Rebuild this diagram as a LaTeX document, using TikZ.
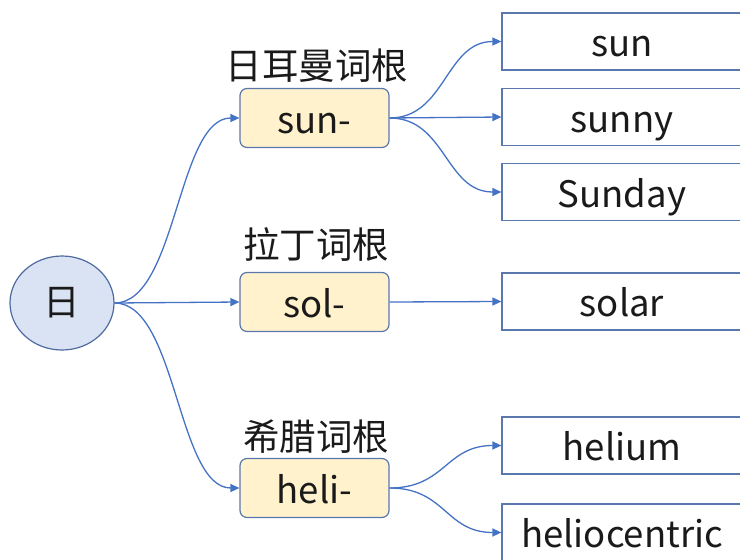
\documentclass[tikz,border=0pt]{standalone}
\usepackage{fontspec}
\setmainfont{Noto Sans CJK SC}
\usetikzlibrary{shapes.geometric,arrows.meta}
\definecolor{arrowblue}{HTML}{4472C4}
\definecolor{rootfill}{HTML}{DAE3F3}
\definecolor{rootdraw}{HTML}{4F6A9E}
\definecolor{rootbox}{HTML}{FFF2CC}
\definecolor{boxdraw}{HTML}{5B78AE}
\definecolor{txt}{HTML}{1A1A1A}
\begin{document}
\begin{tikzpicture}[x=1pt,y=-1pt,
  every node/.style={font=\fontsize{36.5}{40}\selectfont, text=txt},
  rootnode/.style={ellipse, draw=rootdraw, fill=rootfill, line width=1.2pt, minimum width=104pt, minimum height=94pt, inner sep=0pt},
  basefix/.style={text height=36pt, text depth=6pt},
  rootbox/.style={rectangle, rounded corners=7pt, draw=boxdraw, fill=rootbox, line width=1.2pt, minimum width=149pt, minimum height=59pt, inner sep=0pt, basefix},
  wordbox/.style={rectangle, draw=boxdraw, fill=white, line width=1.2pt, minimum width=240pt, minimum height=57pt, inner sep=0pt, basefix},
  lbl/.style={inner sep=0pt},
  conn/.style={draw=arrowblue, line width=1.3pt, -{Triangle[length=9pt,width=8pt]}}
]
\useasboundingbox (0,0) rectangle (740,560);
\node[rootnode] (root) at (62,303) {日};
\node[rootbox] (sunr) at (314.5,118) {sun-};
\node[rootbox] (solr) at (314.5,302) {sol-};
\node[rootbox] (helir) at (314.5,488) {heli-};
\node[lbl] (lsun) at (317,66) {日耳曼词根};
\node[lbl] (lsol) at (316,244) {拉丁词根};
\node[lbl] (lheli) at (316,437) {希腊词根};
\node[wordbox] (wsun) at (622,41.5) {sun};
\node[wordbox] (wsunny) at (622,117) {sunny};
\node[wordbox] (wsunday) at (622,192) {Sunday};
\node[wordbox] (wsolar) at (622,301.5) {solar};
\node[wordbox] (whelium) at (622,445.5) {helium};
\node[wordbox] (whelio) at (622,532.5) {heliocentric};
\draw[conn] (root.east) .. controls +(62,0) and +(-62,0) .. (sunr.west);
\draw[conn] (root.east) -- (solr.west);
\draw[conn] (root.east) .. controls +(62,0) and +(-62,0) .. (helir.west);
\draw[conn] (sunr.east) .. controls +(56,0) and +(-56,0) .. (wsun.west);
\draw[conn] (sunr.east) -- (wsunny.west);
\draw[conn] (sunr.east) .. controls +(56,0) and +(-56,0) .. (wsunday.west);
\draw[conn] (solr.east) -- (wsolar.west);
\draw[conn] (helir.east) .. controls +(56,0) and +(-56,0) .. (whelium.west);
\draw[conn] (helir.east) .. controls +(56,0) and +(-56,0) .. (whelio.west);
\end{tikzpicture}
\end{document}
